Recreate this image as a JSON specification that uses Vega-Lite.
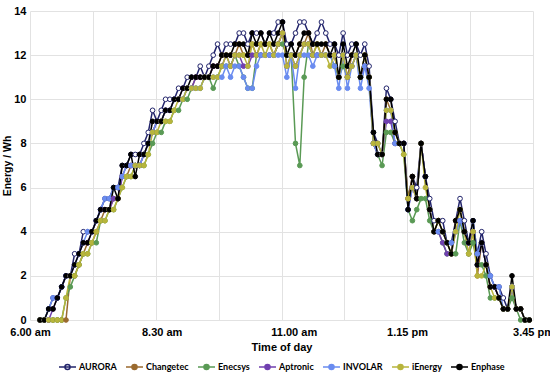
{
  "$schema": "https://vega.github.io/schema/vega-lite/v6.json",
  "width": 503,
  "height": 309,
  "autosize": {"type": "none"},
  "padding": {"left": 30, "top": 11, "right": 17, "bottom": 56},
  "background": "white",
  "config": {
    "view": {"stroke": null},
    "axis": {
      "gridColor": "#e2e2e2",
      "gridWidth": 1,
      "domain": false,
      "ticks": false,
      "labelFont": "Liberation Sans",
      "labelFontWeight": "bold",
      "labelFontSize": 11,
      "labelColor": "#000000",
      "titleFont": "Liberation Sans",
      "titleFontWeight": "bold",
      "titleFontSize": 11,
      "titleColor": "#000000"
    },
    "legend": {
      "layout": {"bottom": {"anchor": "middle"}},
      "labelFont": "Lato",
      "labelFontWeight": "bold",
      "labelFontSize": 9,
      "labelColor": "#000000",
      "columnPadding": 6,
      "symbolSize": 289,
      "symbolStrokeWidth": 1.5,
      "labelOffset": 2,
      "padding": 0
    }
  },
  "data": {
    "values": [
      {"t":0,"AURORA":0,"Changetec":0,"Enecsys":0,"Aptronic":0,"INVOLAR":0,"iEnergy":0,"Enphase":0},
      {"t":1,"AURORA":0,"Changetec":0,"Enecsys":0,"Aptronic":0,"INVOLAR":0,"iEnergy":0,"Enphase":0},
      {"t":2,"AURORA":0.5,"Changetec":0,"Enecsys":0,"Aptronic":0,"INVOLAR":0.5,"iEnergy":0,"Enphase":0.5},
      {"t":3,"AURORA":1,"Changetec":0,"Enecsys":0,"Aptronic":0.5,"INVOLAR":1,"iEnergy":0,"Enphase":0.5},
      {"t":4,"AURORA":1,"Changetec":0,"Enecsys":0,"Aptronic":1,"INVOLAR":1,"iEnergy":0,"Enphase":1},
      {"t":5,"AURORA":1.5,"Changetec":0,"Enecsys":0,"Aptronic":1.5,"INVOLAR":1.5,"iEnergy":0,"Enphase":1.5},
      {"t":6,"AURORA":2,"Changetec":0,"Enecsys":1,"Aptronic":2,"INVOLAR":2,"iEnergy":1,"Enphase":2},
      {"t":7,"AURORA":2,"Changetec":2,"Enecsys":1.5,"Aptronic":2,"INVOLAR":2,"iEnergy":2,"Enphase":2},
      {"t":8,"AURORA":3,"Changetec":2,"Enecsys":2,"Aptronic":2.5,"INVOLAR":2.5,"iEnergy":2,"Enphase":2.5},
      {"t":9,"AURORA":3,"Changetec":2.5,"Enecsys":2.5,"Aptronic":3,"INVOLAR":3,"iEnergy":2.5,"Enphase":3},
      {"t":10,"AURORA":4,"Changetec":3,"Enecsys":3,"Aptronic":3.5,"INVOLAR":3.5,"iEnergy":3,"Enphase":3.5},
      {"t":11,"AURORA":4,"Changetec":3.5,"Enecsys":3,"Aptronic":3.5,"INVOLAR":4,"iEnergy":3,"Enphase":3.5},
      {"t":12,"AURORA":4,"Changetec":3.5,"Enecsys":3.5,"Aptronic":4,"INVOLAR":4,"iEnergy":3.5,"Enphase":4},
      {"t":13,"AURORA":4.5,"Changetec":4,"Enecsys":3.5,"Aptronic":4.5,"INVOLAR":4.5,"iEnergy":4,"Enphase":4.5},
      {"t":14,"AURORA":5,"Changetec":4.5,"Enecsys":4.5,"Aptronic":5,"INVOLAR":5,"iEnergy":4.5,"Enphase":5},
      {"t":15,"AURORA":5.5,"Changetec":5,"Enecsys":4.5,"Aptronic":5,"INVOLAR":5.5,"iEnergy":4.5,"Enphase":5},
      {"t":16,"AURORA":5.5,"Changetec":5,"Enecsys":5,"Aptronic":5,"INVOLAR":5.5,"iEnergy":5,"Enphase":5},
      {"t":17,"AURORA":6,"Changetec":5.5,"Enecsys":5,"Aptronic":5.5,"INVOLAR":6,"iEnergy":5,"Enphase":6},
      {"t":18,"AURORA":6,"Changetec":5.5,"Enecsys":5.5,"Aptronic":5.5,"INVOLAR":6,"iEnergy":5.5,"Enphase":5.5},
      {"t":19,"AURORA":7,"Changetec":6.5,"Enecsys":6,"Aptronic":6.5,"INVOLAR":6.5,"iEnergy":6,"Enphase":7},
      {"t":20,"AURORA":7,"Changetec":6.5,"Enecsys":6.5,"Aptronic":7,"INVOLAR":7,"iEnergy":6.5,"Enphase":7},
      {"t":21,"AURORA":7.5,"Changetec":7,"Enecsys":6.5,"Aptronic":7,"INVOLAR":7,"iEnergy":6.5,"Enphase":7.5},
      {"t":22,"AURORA":7.5,"Changetec":7,"Enecsys":7,"Aptronic":7,"INVOLAR":7,"iEnergy":7,"Enphase":6.5},
      {"t":23,"AURORA":7.5,"Changetec":7,"Enecsys":7,"Aptronic":7,"INVOLAR":7,"iEnergy":7,"Enphase":7.5},
      {"t":24,"AURORA":8,"Changetec":7.5,"Enecsys":7,"Aptronic":7.5,"INVOLAR":7.5,"iEnergy":7,"Enphase":7.5},
      {"t":25,"AURORA":8.5,"Changetec":8,"Enecsys":7.5,"Aptronic":8,"INVOLAR":8,"iEnergy":7.5,"Enphase":8},
      {"t":26,"AURORA":9.5,"Changetec":8.5,"Enecsys":8,"Aptronic":8.5,"INVOLAR":8.5,"iEnergy":8.5,"Enphase":9},
      {"t":27,"AURORA":9,"Changetec":9,"Enecsys":8.5,"Aptronic":9,"INVOLAR":9,"iEnergy":8.5,"Enphase":9},
      {"t":28,"AURORA":9.5,"Changetec":9,"Enecsys":8.5,"Aptronic":9,"INVOLAR":9,"iEnergy":9,"Enphase":9},
      {"t":29,"AURORA":10,"Changetec":9.5,"Enecsys":9,"Aptronic":9.5,"INVOLAR":9.5,"iEnergy":9,"Enphase":9.5},
      {"t":30,"AURORA":10,"Changetec":9.5,"Enecsys":9,"Aptronic":9.5,"INVOLAR":9.5,"iEnergy":9,"Enphase":9.5},
      {"t":31,"AURORA":10,"Changetec":10,"Enecsys":9.5,"Aptronic":10,"INVOLAR":10,"iEnergy":9.5,"Enphase":10},
      {"t":32,"AURORA":10.5,"Changetec":10,"Enecsys":9.5,"Aptronic":10,"INVOLAR":10,"iEnergy":10,"Enphase":10},
      {"t":33,"AURORA":10.5,"Changetec":10,"Enecsys":10,"Aptronic":10.5,"INVOLAR":10,"iEnergy":10,"Enphase":10.5},
      {"t":34,"AURORA":11,"Changetec":10.5,"Enecsys":10,"Aptronic":10.5,"INVOLAR":10.5,"iEnergy":10.5,"Enphase":10.5},
      {"t":35,"AURORA":11,"Changetec":10.5,"Enecsys":10.5,"Aptronic":10.5,"INVOLAR":10.5,"iEnergy":10.5,"Enphase":11},
      {"t":36,"AURORA":11,"Changetec":11,"Enecsys":10.5,"Aptronic":11,"INVOLAR":10.5,"iEnergy":10.5,"Enphase":11},
      {"t":37,"AURORA":11.5,"Changetec":11,"Enecsys":10.5,"Aptronic":11,"INVOLAR":10.5,"iEnergy":10.5,"Enphase":11},
      {"t":38,"AURORA":11,"Changetec":11,"Enecsys":11,"Aptronic":11,"INVOLAR":11,"iEnergy":11,"Enphase":11},
      {"t":39,"AURORA":11.5,"Changetec":11,"Enecsys":11,"Aptronic":11,"INVOLAR":11,"iEnergy":11,"Enphase":11},
      {"t":40,"AURORA":12,"Changetec":11.5,"Enecsys":10.5,"Aptronic":11.5,"INVOLAR":11,"iEnergy":11,"Enphase":11.5},
      {"t":41,"AURORA":12.5,"Changetec":11.5,"Enecsys":11,"Aptronic":11.5,"INVOLAR":11,"iEnergy":11,"Enphase":11.5},
      {"t":42,"AURORA":12,"Changetec":12,"Enecsys":11.5,"Aptronic":11.5,"INVOLAR":11,"iEnergy":11.5,"Enphase":12},
      {"t":43,"AURORA":12.5,"Changetec":12,"Enecsys":11.5,"Aptronic":12,"INVOLAR":11.5,"iEnergy":12,"Enphase":12},
      {"t":44,"AURORA":12.5,"Changetec":12,"Enecsys":11.5,"Aptronic":11.5,"INVOLAR":11,"iEnergy":11.5,"Enphase":12},
      {"t":45,"AURORA":12.5,"Changetec":12,"Enecsys":12,"Aptronic":12,"INVOLAR":11.5,"iEnergy":12,"Enphase":12.5},
      {"t":46,"AURORA":13,"Changetec":12.5,"Enecsys":11.5,"Aptronic":12,"INVOLAR":11.5,"iEnergy":12,"Enphase":12.5},
      {"t":47,"AURORA":13,"Changetec":12,"Enecsys":11,"Aptronic":11.5,"INVOLAR":11,"iEnergy":12,"Enphase":12.5},
      {"t":48,"AURORA":12.5,"Changetec":12,"Enecsys":10.5,"Aptronic":11.5,"INVOLAR":10.5,"iEnergy":11.5,"Enphase":12},
      {"t":49,"AURORA":13,"Changetec":12.5,"Enecsys":10.5,"Aptronic":12,"INVOLAR":10.5,"iEnergy":12.5,"Enphase":13},
      {"t":50,"AURORA":13,"Changetec":12,"Enecsys":12,"Aptronic":12,"INVOLAR":11.5,"iEnergy":12,"Enphase":12.5},
      {"t":51,"AURORA":13,"Changetec":12.5,"Enecsys":12,"Aptronic":12,"INVOLAR":12,"iEnergy":12.5,"Enphase":13},
      {"t":52,"AURORA":12.5,"Changetec":12.5,"Enecsys":12,"Aptronic":12,"INVOLAR":12,"iEnergy":12,"Enphase":12.5},
      {"t":53,"AURORA":13,"Changetec":12.5,"Enecsys":12,"Aptronic":12,"INVOLAR":12,"iEnergy":12.5,"Enphase":13},
      {"t":54,"AURORA":13,"Changetec":12,"Enecsys":12,"Aptronic":12,"INVOLAR":12,"iEnergy":12,"Enphase":12.5},
      {"t":55,"AURORA":13.5,"Changetec":12.5,"Enecsys":12.5,"Aptronic":12.5,"INVOLAR":12,"iEnergy":12.5,"Enphase":13},
      {"t":56,"AURORA":13.5,"Changetec":13,"Enecsys":12.5,"Aptronic":13,"INVOLAR":12,"iEnergy":13,"Enphase":13.5},
      {"t":57,"AURORA":12.5,"Changetec":12,"Enecsys":12,"Aptronic":11.5,"INVOLAR":11,"iEnergy":11.5,"Enphase":12},
      {"t":58,"AURORA":12.5,"Changetec":12,"Enecsys":12,"Aptronic":12,"INVOLAR":12,"iEnergy":12,"Enphase":12.5},
      {"t":59,"AURORA":13,"Changetec":12,"Enecsys":8,"Aptronic":11.5,"INVOLAR":10.5,"iEnergy":11.5,"Enphase":12},
      {"t":60,"AURORA":13.5,"Changetec":12.5,"Enecsys":7,"Aptronic":12,"INVOLAR":12,"iEnergy":12,"Enphase":12.5},
      {"t":61,"AURORA":13.5,"Changetec":12.5,"Enecsys":11,"Aptronic":12.5,"INVOLAR":12,"iEnergy":12.5,"Enphase":13},
      {"t":62,"AURORA":13,"Changetec":13,"Enecsys":12.5,"Aptronic":12.5,"INVOLAR":12,"iEnergy":12.5,"Enphase":13},
      {"t":63,"AURORA":12.5,"Changetec":12,"Enecsys":12,"Aptronic":12,"INVOLAR":11.5,"iEnergy":12,"Enphase":12.5},
      {"t":64,"AURORA":13,"Changetec":12.5,"Enecsys":12,"Aptronic":12,"INVOLAR":12,"iEnergy":12.5,"Enphase":12.5},
      {"t":65,"AURORA":13.5,"Changetec":12,"Enecsys":12,"Aptronic":12,"INVOLAR":12,"iEnergy":12,"Enphase":12.5},
      {"t":66,"AURORA":13,"Changetec":12.5,"Enecsys":12,"Aptronic":12,"INVOLAR":12,"iEnergy":12,"Enphase":12.5},
      {"t":67,"AURORA":12.5,"Changetec":12,"Enecsys":12,"Aptronic":12,"INVOLAR":12,"iEnergy":11.5,"Enphase":12},
      {"t":68,"AURORA":12.5,"Changetec":12,"Enecsys":11.5,"Aptronic":12,"INVOLAR":11.5,"iEnergy":12,"Enphase":12.5},
      {"t":69,"AURORA":12,"Changetec":11,"Enecsys":11,"Aptronic":11,"INVOLAR":10.5,"iEnergy":11,"Enphase":11},
      {"t":70,"AURORA":13,"Changetec":12,"Enecsys":11.5,"Aptronic":12,"INVOLAR":12,"iEnergy":12,"Enphase":12.5},
      {"t":71,"AURORA":12,"Changetec":11,"Enecsys":11,"Aptronic":11,"INVOLAR":10.5,"iEnergy":11,"Enphase":11.5},
      {"t":72,"AURORA":12.5,"Changetec":12,"Enecsys":11.5,"Aptronic":11.5,"INVOLAR":11.5,"iEnergy":11.5,"Enphase":12},
      {"t":73,"AURORA":12.5,"Changetec":12,"Enecsys":12,"Aptronic":12,"INVOLAR":12,"iEnergy":12,"Enphase":12.5},
      {"t":74,"AURORA":12,"Changetec":11,"Enecsys":11,"Aptronic":11,"INVOLAR":10.5,"iEnergy":11,"Enphase":11},
      {"t":75,"AURORA":12.5,"Changetec":12,"Enecsys":11.5,"Aptronic":11.5,"INVOLAR":11.5,"iEnergy":12,"Enphase":12},
      {"t":76,"AURORA":11.5,"Changetec":11,"Enecsys":11,"Aptronic":11,"INVOLAR":10.5,"iEnergy":11,"Enphase":11},
      {"t":77,"AURORA":8.5,"Changetec":8,"Enecsys":8,"Aptronic":8,"INVOLAR":8,"iEnergy":8,"Enphase":8.5},
      {"t":78,"AURORA":8,"Changetec":7.5,"Enecsys":7.5,"Aptronic":7.5,"INVOLAR":7.5,"iEnergy":8,"Enphase":7.5},
      {"t":79,"AURORA":7.5,"Changetec":7.5,"Enecsys":7,"Aptronic":7.5,"INVOLAR":7.5,"iEnergy":7.5,"Enphase":7.5},
      {"t":80,"AURORA":10.5,"Changetec":10,"Enecsys":8.5,"Aptronic":9,"INVOLAR":9.5,"iEnergy":9.5,"Enphase":10},
      {"t":81,"AURORA":10,"Changetec":9.5,"Enecsys":8.5,"Aptronic":9,"INVOLAR":9.5,"iEnergy":9.5,"Enphase":10},
      {"t":82,"AURORA":9,"Changetec":8.5,"Enecsys":8,"Aptronic":8,"INVOLAR":8,"iEnergy":8.5,"Enphase":8.5},
      {"t":83,"AURORA":8,"Changetec":8,"Enecsys":8,"Aptronic":8,"INVOLAR":8,"iEnergy":8,"Enphase":8},
      {"t":84,"AURORA":8,"Changetec":8,"Enecsys":7.5,"Aptronic":8,"INVOLAR":8,"iEnergy":7.5,"Enphase":8},
      {"t":85,"AURORA":5.5,"Changetec":5.5,"Enecsys":5,"Aptronic":5,"INVOLAR":5,"iEnergy":5.5,"Enphase":5},
      {"t":86,"AURORA":6.5,"Changetec":6.5,"Enecsys":4.5,"Aptronic":6,"INVOLAR":6,"iEnergy":6,"Enphase":6.5},
      {"t":87,"AURORA":6,"Changetec":5.5,"Enecsys":5,"Aptronic":5.5,"INVOLAR":5.5,"iEnergy":5.5,"Enphase":5.5},
      {"t":88,"AURORA":8,"Changetec":8,"Enecsys":5.5,"Aptronic":8,"INVOLAR":8,"iEnergy":8,"Enphase":8},
      {"t":89,"AURORA":6.5,"Changetec":6.5,"Enecsys":5.5,"Aptronic":6.5,"INVOLAR":6.5,"iEnergy":6,"Enphase":6.5},
      {"t":90,"AURORA":5.5,"Changetec":5,"Enecsys":4.5,"Aptronic":5,"INVOLAR":5,"iEnergy":5,"Enphase":5},
      {"t":91,"AURORA":4.5,"Changetec":4,"Enecsys":4,"Aptronic":4,"INVOLAR":4,"iEnergy":4,"Enphase":4},
      {"t":92,"AURORA":4.5,"Changetec":4.5,"Enecsys":4,"Aptronic":4,"INVOLAR":4,"iEnergy":4.5,"Enphase":4.5},
      {"t":93,"AURORA":4.5,"Changetec":4,"Enecsys":3.5,"Aptronic":3.5,"INVOLAR":4,"iEnergy":4,"Enphase":4},
      {"t":94,"AURORA":3.5,"Changetec":3.5,"Enecsys":3,"Aptronic":3,"INVOLAR":3.5,"iEnergy":3.5,"Enphase":3.5},
      {"t":95,"AURORA":3.5,"Changetec":3,"Enecsys":3,"Aptronic":3,"INVOLAR":3.5,"iEnergy":3,"Enphase":3},
      {"t":96,"AURORA":4.5,"Changetec":4.5,"Enecsys":3,"Aptronic":4,"INVOLAR":4,"iEnergy":4,"Enphase":4.5},
      {"t":97,"AURORA":5.5,"Changetec":5,"Enecsys":4.5,"Aptronic":4.5,"INVOLAR":4.5,"iEnergy":5,"Enphase":5},
      {"t":98,"AURORA":4.5,"Changetec":4,"Enecsys":3.5,"Aptronic":4,"INVOLAR":4,"iEnergy":4,"Enphase":4},
      {"t":99,"AURORA":3.5,"Changetec":3,"Enecsys":3,"Aptronic":3.5,"INVOLAR":3.5,"iEnergy":3,"Enphase":3.5},
      {"t":100,"AURORA":4.5,"Changetec":4,"Enecsys":3.5,"Aptronic":4,"INVOLAR":4.5,"iEnergy":4,"Enphase":4.5},
      {"t":101,"AURORA":3,"Changetec":2,"Enecsys":2.5,"Aptronic":2.5,"INVOLAR":3,"iEnergy":2,"Enphase":2.5},
      {"t":102,"AURORA":4,"Changetec":3.5,"Enecsys":2.5,"Aptronic":3.5,"INVOLAR":3.5,"iEnergy":2,"Enphase":3.5},
      {"t":103,"AURORA":3,"Changetec":2.5,"Enecsys":2,"Aptronic":2.5,"INVOLAR":2.5,"iEnergy":2.5,"Enphase":2.5},
      {"t":104,"AURORA":2,"Changetec":1.5,"Enecsys":1,"Aptronic":1.5,"INVOLAR":2,"iEnergy":1.5,"Enphase":1.5},
      {"t":105,"AURORA":1.5,"Changetec":1.5,"Enecsys":1,"Aptronic":1.5,"INVOLAR":1.5,"iEnergy":1,"Enphase":1.5},
      {"t":106,"AURORA":1.5,"Changetec":1,"Enecsys":1,"Aptronic":1,"INVOLAR":1.5,"iEnergy":1,"Enphase":1},
      {"t":107,"AURORA":1,"Changetec":0.5,"Enecsys":0.5,"Aptronic":0.5,"INVOLAR":0.5,"iEnergy":0.5,"Enphase":0.5},
      {"t":108,"AURORA":0.5,"Changetec":0.5,"Enecsys":0.5,"Aptronic":0.5,"INVOLAR":0.5,"iEnergy":0.5,"Enphase":0.5},
      {"t":109,"AURORA":1.5,"Changetec":1.5,"Enecsys":1,"Aptronic":1.5,"INVOLAR":1.5,"iEnergy":1.5,"Enphase":2},
      {"t":110,"AURORA":0.5,"Changetec":0.5,"Enecsys":0.5,"Aptronic":0.5,"INVOLAR":0.5,"iEnergy":0.5,"Enphase":0.5},
      {"t":111,"AURORA":0.5,"Changetec":0.5,"Enecsys":0,"Aptronic":0.5,"INVOLAR":0.5,"iEnergy":0.5,"Enphase":0.5},
      {"t":112,"AURORA":0,"Changetec":0,"Enecsys":0,"Aptronic":0,"INVOLAR":0,"iEnergy":0,"Enphase":0},
      {"t":113,"AURORA":0,"Changetec":0,"Enecsys":0,"Aptronic":0,"INVOLAR":0,"iEnergy":0,"Enphase":0}
    ]
  },
  "transform": [
    {"fold": ["AURORA", "Changetec", "Enecsys", "Aptronic", "INVOLAR", "iEnergy", "Enphase"], "as": ["s", "v"]}
  ],
  "encoding": {
    "y": {
      "field": "v",
      "type": "quantitative",
      "scale": {"domain": [0, 14], "nice": false, "zero": false},
      "axis": {"values": [0, 2, 4, 6, 8, 10, 12, 14], "title": "Energy / Wh", "grid": true, "labelPadding": 4, "titlePadding": 1, "titleFontSize": 10.5}
    },
    "stroke": {
      "field": "s",
      "type": "nominal",
      "scale": {
        "domain": ["AURORA", "Changetec", "Enecsys", "Aptronic", "INVOLAR", "iEnergy", "Enphase"],
        "range": ["#22246b", "#9a6a2f", "#5a9a55", "#7040b0", "#6a8cf0", "#b8b53c", "#000000"]
      },
      "legend": {
        "title": null,
        "orient": "bottom",
        "direction": "horizontal",
        "offset": 5,
        "symbolType": "M-1,0L1,0M0.3,0A0.3,0.3 0 1 1 -0.3,0A0.3,0.3 0 1 1 0.3,0",
        "encode": {
          "symbols": {
            "update": {
              "fill": {"signal": "datum.value === 'AURORA' ? '#ffffff' : scale('stroke', datum.value)"},
              "fillOpacity": {"value": 1}
            }
          }
        }
      }
    }
  },
  "layer": [
    {
      "mark": {"type": "line", "strokeWidth": 1.5},
      "encoding": {
        "x": {
          "field": "t",
          "type": "quantitative",
          "scale": {"domain": [-2.31, 113.85], "nice": false, "zero": false},
          "axis": {
            "orient": "top",
            "values": [-2.31, 12.21, 26.73, 41.25, 55.77, 70.29, 84.81, 99.33, 113.85],
            "grid": true,
            "labels": false,
            "title": null
          }
        }
      }
    },
    {
      "mark": {"type": "point", "shape": "circle", "filled": true, "size": 22, "strokeWidth": 1, "opacity": 1},
      "encoding": {
        "x": {
          "field": "t",
          "type": "quantitative",
          "scale": {"domain": [-2.31, 113.85], "nice": false, "zero": false},
          "axis": {
            "orient": "bottom",
            "values": [-2.31, 28.1, 58.6, 84.76, 113.85],
            "grid": false,
            "labelFlush": false,
            "labelOverlap": false,
            "labelPadding": 6,
            "titlePadding": 4,
            "title": "Time of day",
            "labelExpr": "datum.value < 0 ? '6.00 am' : datum.value < 40 ? '8.30 am' : datum.value < 70 ? '11.00 am' : datum.value < 100 ? '1.15 pm' : '3.45 pm'"
          }
        },
        "fill": {
          "field": "s",
          "type": "nominal",
          "scale": {
            "domain": ["AURORA", "Changetec", "Enecsys", "Aptronic", "INVOLAR", "iEnergy", "Enphase"],
            "range": ["#ffffff", "#9a6a2f", "#5a9a55", "#7040b0", "#6a8cf0", "#b8b53c", "#000000"]
          },
          "legend": null
        }
      }
    }
  ]
}
